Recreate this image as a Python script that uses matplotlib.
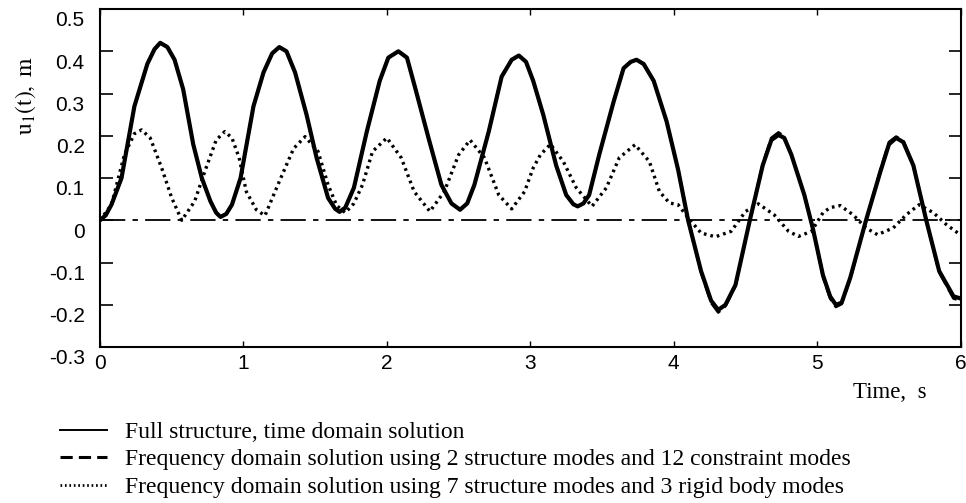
import numpy as np
import matplotlib.pyplot as plt
from matplotlib.transforms import ScaledTranslation


# full structure, time domain solution
t_full = [0, 0.04, 0.08, 0.15, 0.24, 0.33, 0.38, 0.42, 0.47, 0.52, 0.58, 0.65, 0.71,
          0.77, 0.81, 0.84, 0.88, 0.92, 0.98, 1.07, 1.14, 1.20, 1.25, 1.30, 1.36, 1.44,
          1.51, 1.59, 1.64, 1.67, 1.71, 1.77, 1.86, 1.95, 2.01, 2.08, 2.14, 2.20, 2.29,
          2.38, 2.45, 2.51, 2.56, 2.61, 2.71, 2.80, 2.87, 2.92, 2.97, 3.02, 3.09, 3.18,
          3.25, 3.30, 3.33, 3.37, 3.41, 3.48, 3.58, 3.65, 3.70, 3.74, 3.79, 3.86, 3.95,
          4.03, 4.10, 4.19, 4.26, 4.31, 4.36, 4.43, 4.53, 4.62, 4.68, 4.73, 4.77, 4.82,
          4.91, 4.97, 5.04, 5.09, 5.13, 5.17, 5.23, 5.34, 5.44, 5.50, 5.55, 5.60, 5.67,
          5.76, 5.85, 5.95, 6.0]
u_full = [0, 0.012, 0.037, 0.10, 0.27, 0.37, 0.405, 0.42, 0.41, 0.38, 0.31, 0.18, 0.10,
          0.045, 0.018, 0.008, 0.015, 0.037, 0.10, 0.27, 0.35, 0.395, 0.41, 0.40, 0.35, 0.25,
          0.148, 0.053, 0.027, 0.02, 0.03, 0.077, 0.21, 0.33, 0.385, 0.40, 0.385, 0.31, 0.195,
          0.084, 0.04, 0.025, 0.04, 0.084, 0.21, 0.34, 0.38, 0.39, 0.375, 0.33, 0.25, 0.13,
          0.06, 0.038, 0.033, 0.04, 0.06, 0.155, 0.28, 0.36, 0.375, 0.38, 0.37, 0.33, 0.234,
          0.12, 0.0, -0.12, -0.19, -0.212, -0.20, -0.153, 0.0, 0.13, 0.19, 0.202, 0.195, 0.155,
          0.06, -0.02, -0.13, -0.18, -0.20, -0.195, -0.136, 0.0, 0.115, 0.18, 0.195, 0.185, 0.13,
          0.0, -0.12, -0.18, -0.185]

# frequency domain, 2 structure modes + 12 constraint modes (same time points)
u_freq12 = [0, 0.012, 0.037, 0.10, 0.27, 0.37, 0.405, 0.42, 0.41, 0.38, 0.31, 0.18, 0.10,
            0.045, 0.018, 0.008, 0.015, 0.037, 0.10, 0.27, 0.35, 0.395, 0.41, 0.40, 0.35, 0.25,
            0.148, 0.053, 0.027, 0.02, 0.03, 0.077, 0.21, 0.33, 0.385, 0.40, 0.385, 0.31, 0.195,
            0.084, 0.04, 0.025, 0.04, 0.084, 0.21, 0.34, 0.38, 0.39, 0.375, 0.33, 0.25, 0.13,
            0.06, 0.038, 0.033, 0.04, 0.06, 0.155, 0.28, 0.36, 0.375, 0.38, 0.37, 0.33, 0.234,
            0.12, 0.0, -0.123, -0.195, -0.218, -0.203, -0.155, 0.0, 0.133, 0.195, 0.208, 0.198, 0.155,
            0.06, -0.02, -0.133, -0.185, -0.205, -0.198, -0.138, 0.0, 0.118, 0.185, 0.198, 0.188, 0.13,
            0.0, -0.123, -0.185, -0.19]

# frequency domain, 7 structure modes + 3 rigid body modes
t_rigid = [0, 0.08, 0.17, 0.24, 0.29, 0.35, 0.43, 0.50, 0.57, 0.66, 0.73, 0.81, 0.87, 0.92,
           0.97, 1.02, 1.09, 1.15, 1.25, 1.35, 1.43, 1.52, 1.59, 1.65, 1.71, 1.77, 1.83, 1.90,
           2.0, 2.10, 2.19, 2.30, 2.40, 2.50, 2.58, 2.68, 2.78, 2.87, 2.96, 3.02, 3.07, 3.14,
           3.23, 3.32, 3.43, 3.53, 3.62, 3.73, 3.83, 3.90, 3.97, 4.03, 4.10, 4.19, 4.29, 4.40,
           4.50, 4.59, 4.70, 4.80, 4.87, 4.96, 5.04, 5.09, 5.16, 5.25, 5.34, 5.42, 5.53, 5.62,
           5.71, 5.81, 5.90, 6.0]
u_rigid = [0, 0.037, 0.155, 0.205, 0.214, 0.195, 0.124, 0.053, 0.0, 0.045, 0.115, 0.19, 0.21,
           0.195, 0.148, 0.068, 0.025, 0.011, 0.092, 0.17, 0.198, 0.163, 0.084, 0.035, 0.018,
           0.04, 0.084, 0.163, 0.195, 0.148, 0.068, 0.021, 0.068, 0.155, 0.19, 0.148, 0.06,
           0.027, 0.068, 0.124, 0.155, 0.18, 0.139, 0.077, 0.033, 0.077, 0.148, 0.179, 0.139,
           0.068, 0.041, 0.037, 0.006, -0.03, -0.039, -0.026, 0.021, 0.039, 0.013, -0.026,
           -0.038, -0.026, 0.018, 0.03, 0.035, 0.013, -0.018, -0.034, -0.018, 0.013, 0.037,
           0.018, -0.01, -0.035]

labels = ["Full structure, time domain solution",
          "Frequency domain solution using 2 structure modes and 12 constraint modes",
          "Frequency domain solution using 7 structure modes and 3 rigid body modes"]

x_ticks = [0, 1, 2, 3, 4, 5, 6]
y_ticks = [-0.3, -0.2, -0.1, 0, 0.1, 0.2, 0.3, 0.4, 0.5]
y_ticklabels = ["-0.3", "-0.2", "-0.1", "0", "0.1", "0.2", "0.3", "0.4", "0.5"]
zero_level = 0

serif = "Liberation Serif"
sans = "Liberation Sans"

fig = plt.figure(figsize=(9.66, 5.03), dpi=100)
ax = fig.add_axes([0.1035, 0.310, 0.891, 0.672])

ax.axhline(zero_level, color="black", lw=1.3, dashes=(14, 4, 3, 4))
l1, = ax.plot(t_full, u_full, color="black", lw=3.0, solid_joinstyle="round")
l2, = ax.plot(t_full, u_freq12, color="black", lw=2.0, dashes=(5, 2))
l3, = ax.plot(t_rigid, u_rigid, color="black", lw=2.4, dashes=(0.8, 1.2))

ax.set_xlim(0, 6)
ax.set_ylim(-0.3, 0.5)
ax.set_xticks(x_ticks)
ax.set_xticklabels([str(v) for v in x_ticks], fontfamily=sans, fontsize=15)
ax.set_yticks(y_ticks)
ax.set_yticklabels(y_ticklabels, fontfamily=sans, fontsize=15)
ax.tick_params(axis="y", direction="in", length=9, width=1.2, right=True, pad=11)
ax.tick_params(axis="x", direction="in", length=4, width=1.0, top=True, pad=5)
for s in ax.spines.values():
    s.set_linewidth(1.5)

# y tick labels sit a bit below their ticks in the original
shift = ScaledTranslation(0, -7 / 72, fig.dpi_scale_trans)
for lab in ax.get_yticklabels():
    lab.set_transform(lab.get_transform() + shift)

fig.text(0.921, 1 - 392 / 503, "Time,  s", fontfamily=serif, fontsize=16.5,
         ha="center", va="center")
fig.text(0.027, 1 - 95 / 503, r"$\mathrm{u_1(t),\ m}$", fontsize=17,
         rotation=90, ha="center", va="center", math_fontfamily="stix")

# legend handles drawn thinner, like the original
h1 = plt.Line2D([], [], color="black", lw=1.4)
h2 = plt.Line2D([], [], color="black", lw=2.2, dashes=(4, 2))
h3 = plt.Line2D([], [], color="black", lw=2.0, dashes=(0.6, 1.0))
fig.legend([h1, h2, h3], labels, loc="upper left", bbox_to_anchor=(0.052, 1 - 412 / 503),
           frameon=False, handlelength=2.0, handletextpad=0.76, labelspacing=0.25,
           prop={"family": serif, "size": 17}, borderaxespad=0)

fig.savefig("out.png", dpi=100)
